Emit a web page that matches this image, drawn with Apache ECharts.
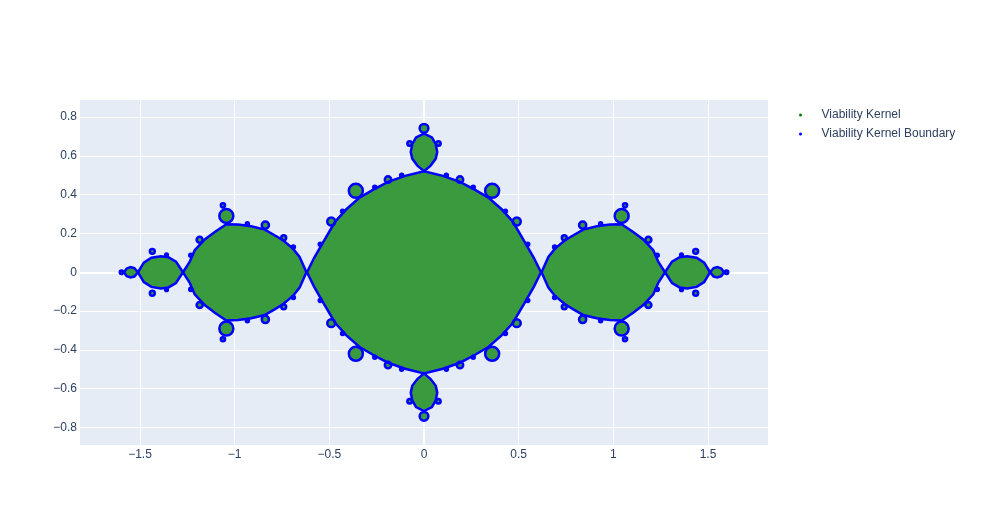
<!DOCTYPE html>
<html>
<head>
<meta charset="utf-8">
<script src="https://cdn.jsdelivr.net/npm/echarts@6/dist/echarts.min.js"></script>
<style>
  html, body { margin: 0; padding: 0; background: #fff; }
  #chart { width: 982px; height: 525px; }
</style>
</head>
<body>
<div id="chart"></div>
<script>
// tick labels
const xTicks = [-1.5, -1, -0.5, 0, 0.5, 1, 1.5];
const yTicks = [-0.8, -0.6, -0.4, -0.2, 0, 0.2, 0.4, 0.6, 0.8];

// outlines of the kernel components
const mainBody = [
  [0.618, 0], [0.58, 0.075], [0.53, 0.16], [0.47, 0.26], [0.41, 0.325], [0.34, 0.385],
  [0.27, 0.425], [0.19, 0.466], [0.1, 0.497], [0, 0.521], [-0.1, 0.497], [-0.19, 0.466],
  [-0.27, 0.425], [-0.34, 0.385], [-0.41, 0.325], [-0.47, 0.26], [-0.53, 0.16], [-0.58, 0.075],
  [-0.618, 0], [-0.58, -0.075], [-0.53, -0.16], [-0.47, -0.26], [-0.41, -0.325], [-0.34, -0.385],
  [-0.27, -0.425], [-0.19, -0.466], [-0.1, -0.497], [0, -0.521], [0.1, -0.497], [0.19, -0.466],
  [0.27, -0.425], [0.34, -0.385], [0.41, -0.325], [0.47, -0.26], [0.53, -0.16], [0.58, -0.075]
];
const upperBulb = [
  [0, 0.521], [0.035, 0.55], [0.062, 0.585], [0.07, 0.62], [0.062, 0.66], [0.042, 0.695],
  [0, 0.715], [-0.042, 0.695], [-0.062, 0.66], [-0.07, 0.62], [-0.062, 0.585], [-0.035, 0.55]
];
const lowerBulb = [
  [0, -0.521], [0.035, -0.55], [0.062, -0.585], [0.07, -0.62], [0.062, -0.66], [0.042, -0.695],
  [0, -0.715], [-0.042, -0.695], [-0.062, -0.66], [-0.07, -0.62], [-0.062, -0.585], [-0.035, -0.55]
];
const rightLobe = [
  [0.621, 0], [0.657, 0.079], [0.692, 0.122], [0.745, 0.165], [0.789, 0.191], [0.841, 0.22],
  [0.912, 0.237], [0.982, 0.246], [1.044, 0.248], [1.105, 0.208], [1.158, 0.169], [1.211, 0.114],
  [1.238, 0.053], [1.273, 0], [1.238, -0.053], [1.211, -0.114], [1.158, -0.169], [1.105, -0.208],
  [1.044, -0.248], [0.982, -0.246], [0.912, -0.237], [0.841, -0.22], [0.789, -0.191], [0.745, -0.165],
  [0.692, -0.122], [0.657, -0.079]
];
const leftLobe = [
  [-0.621, 0], [-0.657, 0.079], [-0.692, 0.122], [-0.745, 0.165], [-0.789, 0.191], [-0.841, 0.22],
  [-0.912, 0.237], [-0.982, 0.246], [-1.044, 0.248], [-1.105, 0.208], [-1.158, 0.169], [-1.211, 0.114],
  [-1.238, 0.053], [-1.273, 0], [-1.238, -0.053], [-1.211, -0.114], [-1.158, -0.169], [-1.105, -0.208],
  [-1.044, -0.248], [-0.982, -0.246], [-0.912, -0.237], [-0.841, -0.22], [-0.789, -0.191], [-0.745, -0.165],
  [-0.692, -0.122], [-0.657, -0.079]
];
const farRightLobe = [
  [1.273, 0], [1.31, 0.055], [1.35, 0.078], [1.39, 0.083], [1.44, 0.075], [1.48, 0.05],
  [1.511, 0], [1.48, -0.05], [1.44, -0.075], [1.39, -0.083], [1.35, -0.078], [1.31, -0.055]
];
const farLeftLobe = [
  [-1.273, 0], [-1.31, 0.055], [-1.35, 0.078], [-1.39, 0.083], [-1.44, 0.075], [-1.48, 0.05],
  [-1.511, 0], [-1.48, -0.05], [-1.44, -0.075], [-1.39, -0.083], [-1.35, -0.078], [-1.31, -0.055]
];
const rightTip = [
  [1.511, 0], [1.53, 0.022], [1.55, 0.027], [1.57, 0.02], [1.585, 0],
  [1.57, -0.02], [1.55, -0.027], [1.53, -0.022]
];
const leftTip = [
  [-1.511, 0], [-1.53, 0.022], [-1.55, 0.027], [-1.57, 0.02], [-1.585, 0],
  [-1.57, -0.02], [-1.55, -0.027], [-1.53, -0.022]
];

// small bulbs on the boundary: [x, y, radius]
const bulbs = [
  [0.36, 0.42, 0.037], [-0.36, 0.42, 0.037], [0.36, -0.42, 0.037], [-0.36, -0.42, 0.037],
  [0.49, 0.262, 0.021], [-0.49, 0.262, 0.021], [0.49, -0.262, 0.021], [-0.49, -0.262, 0.021],
  [0.19, 0.478, 0.017], [-0.19, 0.478, 0.017], [0.19, -0.478, 0.017], [-0.19, -0.478, 0.017],
  [0.118, 0.5, 0.008], [-0.118, 0.5, 0.008], [0.118, -0.5, 0.008], [-0.118, -0.5, 0.008],
  [0.26, 0.438, 0.008], [-0.26, 0.438, 0.008], [0.26, -0.438, 0.008], [-0.26, -0.438, 0.008],
  [0.43, 0.315, 0.008], [-0.43, 0.315, 0.008], [0.43, -0.315, 0.008], [-0.43, -0.315, 0.008],
  [0.548, 0.145, 0.008], [-0.548, 0.145, 0.008], [0.548, -0.145, 0.008], [-0.548, -0.145, 0.008],
  [0, 0.742, 0.023], [0, -0.742, 0.023],
  [0.076, 0.664, 0.012], [-0.076, 0.664, 0.012], [0.076, -0.664, 0.012], [-0.076, -0.664, 0.012],
  [1.044, 0.29, 0.037], [-1.044, 0.29, 0.037], [1.044, -0.29, 0.037], [-1.044, -0.29, 0.037],
  [1.062, 0.345, 0.011], [-1.062, 0.345, 0.011], [1.062, -0.345, 0.011], [-1.062, -0.345, 0.011],
  [0.838, 0.243, 0.019], [-0.838, 0.243, 0.019], [0.838, -0.243, 0.019], [-0.838, -0.243, 0.019],
  [1.185, 0.168, 0.016], [-1.185, 0.168, 0.016], [1.185, -0.168, 0.016], [-1.185, -0.168, 0.016],
  [0.741, 0.178, 0.013], [-0.741, 0.178, 0.013], [0.741, -0.178, 0.013], [-0.741, -0.178, 0.013],
  [0.933, 0.25, 0.008], [-0.933, 0.25, 0.008], [0.933, -0.25, 0.008], [-0.933, -0.25, 0.008],
  [0.69, 0.13, 0.008], [-0.69, 0.13, 0.008], [0.69, -0.13, 0.008], [-0.69, -0.13, 0.008],
  [1.232, 0.088, 0.008], [-1.232, 0.088, 0.008], [1.232, -0.088, 0.008], [-1.232, -0.088, 0.008],
  [1.435, 0.108, 0.013], [-1.435, 0.108, 0.013], [1.435, -0.108, 0.013], [-1.435, -0.108, 0.013],
  [1.36, 0.09, 0.007], [-1.36, 0.09, 0.007], [1.36, -0.09, 0.007], [-1.36, -0.09, 0.007],
  [1.598, 0, 0.009], [-1.598, 0, 0.009]
];

const outlines = [mainBody, upperBulb, lowerBulb, rightLobe, leftLobe,
  farRightLobe, farLeftLobe, rightTip, leftTip];

const kernelColor = '#399b3d';
const boundaryColor = '#0000ff';
const fontFamily = '"Liberation Sans", Arial, sans-serif';

var chart = echarts.init(document.getElementById('chart'));

// one item per outline, then one per bulb
let shapeIndex = [];
for (let i = 0; i < outlines.length + bulbs.length; i++) {
  shapeIndex.push([i]);
}

function makeRenderer(style) {
  return function (params, api) {
    let i = api.value(0);
    if (i < outlines.length) {
      let pts = outlines[i].map(function (p) { return api.coord(p); });
      return { type: 'polygon', shape: { points: pts }, style: style };
    }
    let b = bulbs[i - outlines.length];
    let c = api.coord([b[0], b[1]]);
    let r = api.size([b[2], 0])[0];
    return { type: 'circle', shape: { cx: c[0], cy: c[1], r: r }, style: style };
  };
}

function tickText(v) {
  if (v === 0) return '0';
  return v < 0 ? '\u2212' + Math.abs(v) : String(v);
}

let option = {
  backgroundColor: '#fff',
  animation: false,
  textStyle: { fontFamily: fontFamily },
  grid: {
    left: 80, right: 214, top: 100, bottom: 80,
    show: true, backgroundColor: '#E5ECF6', borderWidth: 0
  },
  legend: {
    orient: 'vertical',
    left: 799,
    top: 109,
    padding: 0,
    itemGap: 7,
    itemWidth: 32,
    itemHeight: 3,
    icon: 'circle',
    textStyle: { color: '#2a3f5f', fontSize: 12, fontFamily: fontFamily },
    data: [
      { name: 'Viability Kernel', itemStyle: { color: 'green' } },
      { name: 'Viability Kernel Boundary', itemStyle: { color: boundaryColor } }
    ]
  },
  xAxis: {
    type: 'value',
    min: -1.817,
    max: 1.817,
    axisLine: { show: false },
    axisTick: { show: false, customValues: xTicks },
    axisLabel: {
      customValues: xTicks,
      formatter: tickText,
      color: '#2a3f5f', fontSize: 12, margin: 4, fontFamily: fontFamily
    },
    splitLine: { show: true, lineStyle: { color: '#fff', width: 1 } }
  },
  yAxis: {
    type: 'value',
    min: -0.89,
    max: 0.888,
    axisLine: { show: false },
    axisTick: { show: false, customValues: yTicks },
    axisLabel: {
      customValues: yTicks,
      formatter: tickText,
      color: '#2a3f5f', fontSize: 12, margin: 3, fontFamily: fontFamily
    },
    splitLine: { show: true, lineStyle: { color: '#fff', width: 1 } }
  },
  series: [
    {
      // zero lines
      type: 'line',
      data: [],
      silent: true,
      markLine: {
        silent: true,
        symbol: 'none',
        z: 1,
        label: { show: false },
        lineStyle: { color: '#fff', width: 2, type: 'solid' },
        data: [{ xAxis: 0 }, { yAxis: 0 }]
      }
    },
    {
      name: 'Viability Kernel',
      type: 'custom',
      itemStyle: { color: 'green' },
      renderItem: makeRenderer({ fill: kernelColor }),
      data: shapeIndex,
      z: 3
    },
    {
      name: 'Viability Kernel Boundary',
      type: 'custom',
      itemStyle: { color: boundaryColor },
      renderItem: makeRenderer({ fill: 'none', stroke: boundaryColor, lineWidth: 2.5 }),
      data: shapeIndex,
      z: 4
    }
  ]
};

chart.setOption(option);
</script>
</body>
</html>
